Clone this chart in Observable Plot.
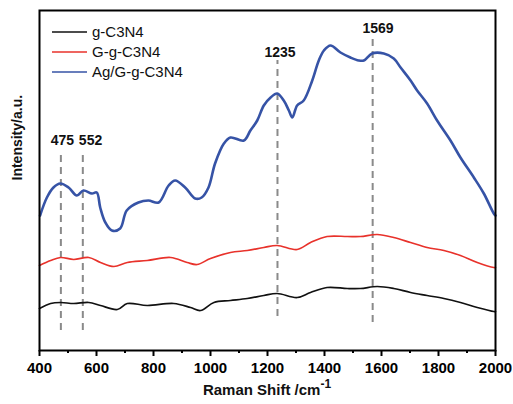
<!DOCTYPE html>
<html>
<head>
<meta charset="utf-8">
<script src="https://cdn.jsdelivr.net/npm/d3@7"></script>
<script src="https://cdn.jsdelivr.net/npm/@observablehq/plot@0.6"></script>
<style>
  html, body { margin: 0; padding: 0; background: #fff; }
  #chart { width: 513px; height: 404px; }
</style>
</head>
<body>
<div id="chart"></div>
<script>
// ---- Data ----
const seriesNames = ["g-C3N4", "G-g-C3N4", "Ag/G-g-C3N4"];
const seriesColors = ["#111111", "#e8322b", "#3653a6"];

const blackX = [400, 439, 474, 520, 573, 614, 673, 708, 778, 871, 930, 965, 1012, 1070, 1129, 1187, 1234, 1304, 1351, 1409, 1480, 1526, 1585, 1643, 1702, 1760, 1819, 1877, 1936, 1994, 2000];
const blackY = [42, 47, 48, 47, 48, 45, 41, 47, 45, 47, 43, 40, 48, 50, 52, 55, 57, 53, 58, 63, 62, 62, 64, 62, 58, 55, 52, 48, 43, 39, 39];

const redX = [400, 439, 474, 520, 573, 614, 661, 708, 778, 860, 918, 953, 1000, 1070, 1129, 1187, 1234, 1304, 1351, 1409, 1480, 1526, 1585, 1643, 1702, 1760, 1819, 1877, 1936, 1994, 2000];
const redY = [85, 90, 93, 91, 93, 88, 84, 88, 90, 93, 88, 86, 92, 98, 100, 103, 105, 101, 108, 114, 114, 114, 116, 113, 108, 103, 100, 95, 88, 83, 83];

const blueX = [402, 426, 449, 473, 502, 531, 554, 584, 601, 613, 631, 654, 683, 706, 747, 782, 818, 853, 876, 911, 946, 969, 993, 1016, 1047, 1070, 1117, 1140, 1164, 1187, 1211, 1234, 1257, 1275, 1287, 1304, 1327, 1357, 1380, 1398, 1421, 1456, 1491, 1520, 1538, 1567, 1608, 1643, 1667, 1702, 1725, 1760, 1795, 1842, 1877, 1924, 1959, 1994, 2000];
const blueY = [135, 153, 163, 167, 163, 155, 160, 157, 158, 143, 128, 120, 122, 140, 148, 150, 148, 165, 170, 163, 152, 153, 163, 187, 207, 213, 210, 220, 230, 245, 253, 257, 250, 240, 233, 245, 250, 270, 290, 300, 305, 298, 293, 290, 290, 297, 297, 292, 283, 270, 260, 247, 230, 210, 193, 173, 157, 137, 135];

const peakPositions = [475, 552, 1235, 1569];
const peakLabels = ["475", "552", "1235", "1569"];
const peakLabelX = [480, 579, 1244, 1588];
const peakLabelY = [210, 210, 298, 322];
const peakLineTop = [198, 198, 290, 315];
const peakLineBottom = [20, 20, 34, 28];

const majorTicks = [400, 600, 800, 1000, 1200, 1400, 1600, 1800, 2000];
const minorTicks = [500, 700, 900, 1100, 1300, 1500, 1700, 1900];

// ---- Build tables ----
const allX = [blackX, redX, blueX];
const allY = [blackY, redY, blueY];
const spectra = [];
seriesNames.forEach((name, i) => {
  allX[i].forEach((x, j) => spectra.push({series: name, x, y: allY[i][j]}));
});
const peaks = peakPositions.map((p, i) => ({
  x: p, label: peakLabels[i], lx: peakLabelX[i], ly: peakLabelY[i],
  y1: peakLineBottom[i], y2: peakLineTop[i]
}));

const FONT = "'Liberation Sans', Arial, Helvetica, sans-serif";

const chart = Plot.plot({
  width: 513,
  height: 404,
  marginLeft: 39,
  marginRight: 18,
  marginTop: 10,
  marginBottom: 54,
  style: {fontFamily: FONT, background: "#fff", color: "#000"},
  x: {domain: [400, 2000]},
  y: {domain: [0, 340]},
  color: {domain: seriesNames, range: seriesColors},
  marks: [
    Plot.ruleX(peaks, {x: "x", y1: "y1", y2: "y2", stroke: "#8a8a8a", strokeWidth: 2, strokeDasharray: "7,5"}),
    Plot.line(spectra.filter(d => d.series !== "Ag/G-g-C3N4"), {x: "x", y: "y", z: "series", stroke: "series", strokeWidth: 1.7, curve: "catmull-rom"}),
    Plot.line(spectra.filter(d => d.series === "Ag/G-g-C3N4"), {x: "x", y: "y", stroke: "series", strokeWidth: 2.6, curve: "catmull-rom"}),
    Plot.text(peaks, {x: "lx", y: "ly", text: "label", fontWeight: "bold", fontSize: 14, fill: "#111"}),
    Plot.frame({stroke: "#000", strokeWidth: 2}),
    Plot.axisX({ticks: majorTicks, tickSize: 6, tickPadding: 6, tickFormat: d => String(d), fontSize: 15, fontWeight: "bold", label: null, strokeWidth: 2}),
    Plot.axisX({ticks: minorTicks, tickSize: 3, text: null, label: null, strokeWidth: 2}),
    Plot.axisY({ticks: [], label: null}),
    Plot.text(["Intensity/a.u."], {frameAnchor: "left", rotate: -90, dx: -22, fontWeight: "bold", fontSize: 14, fill: "#111"})
  ]
});

document.getElementById("chart").appendChild(chart);

// x-axis title with superscript, and legend (added as real SVG text)
const svg = d3.select(chart);
const title = svg.append("text")
  .attr("x", 267).attr("y", 395)
  .attr("text-anchor", "middle")
  .attr("font-family", FONT)
  .attr("font-weight", "bold")
  .attr("font-size", 15)
  .attr("fill", "#111");
title.append("tspan").text("Raman Shift /cm");
title.append("tspan").attr("dy", -7).attr("font-size", 12).text("-1");

const legend = svg.append("g").attr("font-family", FONT).attr("font-size", 15).attr("text-anchor", "start");
seriesNames.forEach((name, i) => {
  const y = 32 + i * 20;
  legend.append("line").attr("x1", 52).attr("x2", 87).attr("y1", y).attr("y2", y)
    .attr("stroke", seriesColors[i]).attr("stroke-width", 1.6);
  legend.append("text").attr("x", 92).attr("y", y).attr("dy", "0.35em")
    .attr("text-anchor", "start")
    .attr("fill", "#111").text(name);
});
</script>
</body>
</html>
